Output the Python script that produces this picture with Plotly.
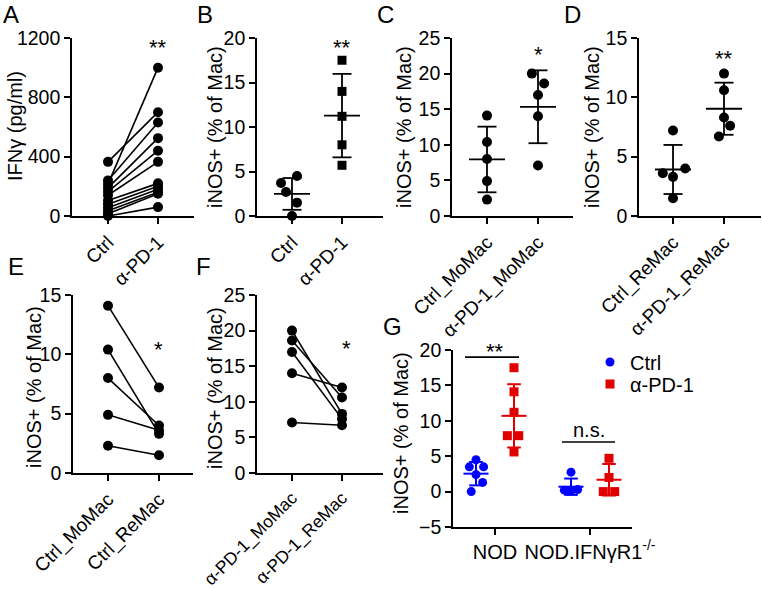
import numpy as np
import plotly.graph_objects as go

W, H = 762, 589
FONT = "Arial, Liberation Sans, Helvetica, sans-serif"
BLUE = "#0000FF"
RED = "#E00000"
BLACK = "#000000"

# ---------------- data ----------------
a_groups = ["Ctrl", "α-PD-1"]
a_ctrl = [365, 215, 240, 190, 165, 140, 105, 80, 55, 35, 15, 0]
a_pd1 = [700, 1000, 630, 525, 440, 365, 220, 200, 180, 160, 150, 60]

b_groups = ["Ctrl", "α-PD-1"]
b_ctrl = [4.5, 3.7, 2.7, 1.5, 0.0]
b_pd1 = [17.5, 14.0, 11.2, 8.0, 5.7]

c_groups = ["Ctrl_MoMac", "α-PD-1_MoMac"]
c_ctrl = [14.1, 10.4, 8.0, 4.9, 2.3]
c_pd1 = [20.0, 18.6, 17.0, 14.0, 7.1]

d_groups = ["Ctrl_ReMac", "α-PD-1_ReMac"]
d_ctrl = [7.2, 4.0, 3.6, 3.3, 1.5]
d_pd1 = [12.0, 10.6, 8.3, 7.6, 6.7]

e_groups = ["Ctrl_MoMac", "Ctrl_ReMac"]
e_momac = [14.1, 10.4, 8.0, 4.9, 2.3]
e_remac = [7.2, 3.3, 4.0, 3.6, 1.5]

f_groups = ["α-PD-1_MoMac", "α-PD-1_ReMac"]
f_momac = [20.0, 18.6, 17.0, 14.0, 7.1]
f_remac = [8.3, 10.6, 7.6, 12.0, 6.7]

g_strains = ["NOD", "NOD.IFNγR1<sup>-/-</sup>"]
g_nod_ctrl = [4.5, 3.5, 3.5, 2.4, 1.3, 0.0]
g_nod_pd1 = [17.5, 14.1, 11.2, 7.9, 7.9, 5.6]
g_ko_ctrl = [2.75, 0.2, 0.1, 0.3, 0.1]
g_ko_pd1 = [4.7, 2.0, 0.0, 0.0]

# ---------------- style: horizontal scatter spread (axis units) ----------------
b_ctrl_jit = [0.1, -0.22, -0.12, 0.1, 0.0]
b_pd1_jit = [0, 0, 0, 0, 0]
c_ctrl_jit = [0, 0, 0, 0, 0]
c_pd1_jit = [-0.12, 0.12, 0, 0, 0]
d_ctrl_jit = [0, 0.24, -0.2, 0, 0]
d_pd1_jit = [0, 0, 0, 0.12, -0.1]
g_nod_ctrl_jit = [0, -0.07, 0.08, 0, 0.07, -0.05]
g_nod_pd1_jit = [0, 0, 0, -0.07, 0.05, 0]
g_ko_ctrl_jit = [0, -0.07, 0, 0.07, -0.03]
g_ko_pd1_jit = [0, 0, -0.06, 0.06]
G_OFF = 0.2


def xp(p):
    return p / W


def yp(p):
    return 1 - p / H


# panel geometry in pixels: axis left/right, top/bottom, two category tick positions
panels = {
    "A": dict(i=1, x0=72, x1=194, y0=38, y1=216, c0=108, c1=158, yr=[0, 1200], dt=400, ticks=a_groups, ang=-45, fs=19),
    "B": dict(i=2, x0=257, x1=383, y0=38, y1=216, c0=292, c1=342, yr=[0, 20], dt=5, ticks=b_groups, ang=-45, fs=19),
    "C": dict(i=3, x0=452, x1=573, y0=38, y1=216, c0=487, c1=538, yr=[0, 25], dt=5, ticks=c_groups, ang=-45, fs=19),
    "D": dict(i=4, x0=639, x1=761, y0=38, y1=216, c0=673, c1=724, yr=[0, 15], dt=5, ticks=d_groups, ang=-45, fs=19),
    "E": dict(i=5, x0=73, x1=193, y0=295, y1=473, c0=108, c1=159, yr=[0, 15], dt=5, ticks=e_groups, ang=-45, fs=19),
    "F": dict(i=6, x0=257, x1=383, y0=295, y1=473, c0=292, c1=342, yr=[0, 25], dt=5, ticks=f_groups, ang=-45, fs=17.5),
    "G": dict(i=7, x0=453, x1=632, y0=350, y1=527, c0=495, c1=590, yr=[-5, 20], dt=5, ticks=g_strains, ang=0, fs=20),
}

fig = go.Figure()
layout = dict(
    width=W, height=H, margin=dict(l=0, r=0, t=0, b=0, pad=0, autoexpand=False),
    paper_bgcolor="white", plot_bgcolor="white",
    font=dict(family=FONT, size=20, color=BLACK),
    showlegend=True,
    hovermode=False,
)

axis_common = dict(
    showline=True, linecolor=BLACK, linewidth=1.6,
    ticks="outside", ticklen=6, tickwidth=1.6, tickcolor=BLACK,
    showgrid=False, zeroline=False, automargin=False,
)

for key, p in panels.items():
    i = p["i"]
    unit = p["c1"] - p["c0"]
    p["unit"] = unit
    xr = [-(p["c0"] - p["x0"]) / unit, 1 + (p["x1"] - p["c1"]) / unit]
    sx = "" if i == 1 else str(i)
    layout["xaxis" + sx] = dict(
        axis_common, domain=[xp(p["x0"]), min(1.0, xp(p["x1"]))], range=xr,
        tickmode="array", tickvals=[0, 1], ticktext=p["ticks"], tickangle=p["ang"],
        tickfont=dict(family=FONT, size=p["fs"], color=BLACK),
        anchor="y" + sx, fixedrange=True,
    )
    layout["yaxis" + sx] = dict(
        axis_common, domain=[yp(p["y1"]), yp(p["y0"])], range=p["yr"],
        tick0=p["yr"][0], dtick=p["dt"], anchor="x" + sx, fixedrange=True,
        tickfont=dict(family=FONT, size=19.5, color=BLACK),
    )
    p["xa"] = "x" + sx
    p["ya"] = "y" + sx


def dots(panel, xs, ys, color=BLACK, symbol="circle", size=10, name=None, legend=None):
    p = panels[panel]
    if legend:
        kw = dict(showlegend=True, legend=legend, name=name)
    else:
        kw = dict(showlegend=False)
    fig.add_trace(go.Scatter(
        x=xs, y=ys, mode="markers", xaxis=p["xa"], yaxis=p["ya"],
        marker=dict(color=color, symbol=symbol, size=size, line=dict(width=0)),
        cliponaxis=False, **kw,
    ))


def mean_sd(panel, xc, vals, color=BLACK, mw_px=18, cw_px=9.5, lw=1.8):
    p = panels[panel]
    m = float(np.mean(vals))
    s = float(np.std(vals, ddof=1))
    mw = mw_px / p["unit"]
    cw = cw_px / p["unit"]
    xs = [xc - mw, xc + mw, None, xc, xc, None, xc - cw, xc + cw, None, xc - cw, xc + cw]
    ys = [m, m, None, m - s, m + s, None, m + s, m + s, None, m - s, m - s]
    fig.add_trace(go.Scatter(
        x=xs, y=ys, mode="lines", xaxis=p["xa"], yaxis=p["ya"],
        line=dict(color=color, width=lw), cliponaxis=False, showlegend=False,
    ))


def paired(panel, left, right):
    p = panels[panel]
    xs, ys = [], []
    for a, b in zip(left, right):
        xs += [0, 1, None]
        ys += [a, b, None]
    fig.add_trace(go.Scatter(
        x=xs, y=ys, mode="lines", xaxis=p["xa"], yaxis=p["ya"],
        line=dict(color=BLACK, width=1.6), cliponaxis=False, showlegend=False,
    ))
    dots(panel, [0] * len(left), left, size=10)
    dots(panel, [1] * len(right), right, size=10)


# A
paired("A", a_ctrl, a_pd1)

# B
dots("B", [0 + j for j in b_ctrl_jit], b_ctrl)
dots("B", [1 + j for j in b_pd1_jit], b_pd1, symbol="square", size=9)
mean_sd("B", 0, b_ctrl)
mean_sd("B", 1, b_pd1)

# C
dots("C", [0 + j for j in c_ctrl_jit], c_ctrl)
dots("C", [1 + j for j in c_pd1_jit], c_pd1)
mean_sd("C", 0, c_ctrl)
mean_sd("C", 1, c_pd1)

# D
dots("D", [0 + j for j in d_ctrl_jit], d_ctrl)
dots("D", [1 + j for j in d_pd1_jit], d_pd1)
mean_sd("D", 0, d_ctrl)
mean_sd("D", 1, d_pd1)

# E, F
paired("E", e_momac, e_remac)
paired("F", f_momac, f_remac)

# G
g_ctrl_x = [0 - G_OFF + j for j in g_nod_ctrl_jit] + [1 - G_OFF + j for j in g_ko_ctrl_jit]
g_pd1_x = [0 + G_OFF + j for j in g_nod_pd1_jit] + [1 + G_OFF + j for j in g_ko_pd1_jit]
mean_sd("G", 0 - G_OFF, g_nod_ctrl, color=BLUE, mw_px=12.5, cw_px=6.8, lw=2)
mean_sd("G", 1 - G_OFF, g_ko_ctrl, color=BLUE, mw_px=12.5, cw_px=6.8, lw=2)
mean_sd("G", 0 + G_OFF, g_nod_pd1, color=RED, mw_px=12.5, cw_px=6.8, lw=2)
mean_sd("G", 1 + G_OFF, g_ko_pd1, color=RED, mw_px=12.5, cw_px=6.8, lw=2)
dots("G", g_ctrl_x, g_nod_ctrl + g_ko_ctrl, color=BLUE, size=9, name="Ctrl", legend="legend")
dots("G", g_pd1_x, g_nod_pd1 + g_ko_pd1, color=RED, symbol="square", size=9, name="α-PD-1", legend="legend2")

leg_common = dict(xanchor="left", yanchor="middle",
                  font=dict(family=FONT, size=20, color=BLACK), bgcolor="rgba(0,0,0,0)",
                  itemwidth=30, tracegroupgap=0, borderwidth=0)
layout["legend"] = dict(leg_common, x=xp(590), y=yp(362))
layout["legend2"] = dict(leg_common, x=xp(590), y=yp(384))

# significance bars in G
shapes = [
    dict(type="line", xref="x7", yref="y7", x0=-0.316, x1=0.253, y0=19.0, y1=19.0,
         line=dict(color=BLACK, width=1.6)),
    dict(type="line", xref="x7", yref="y7", x0=0.705, x1=1.263, y0=7.0, y1=7.0,
         line=dict(color=BLACK, width=1.6)),
]
layout["shapes"] = shapes

ann = []
# significance marks (pixel centre of the text box)
stars = [(158, 48, "**"), (342, 48, "**"), (538, 55, "*"), (724, 59, "**"),
         (158, 349, "*"), (346, 348, "*"), (495, 351, "**")]
for x, y, t in stars:
    ann.append(dict(x=xp(x), y=yp(y), xref="paper", yref="paper", text=t, showarrow=False,
                    xanchor="center", yanchor="middle", font=dict(family=FONT, size=22, color=BLACK)))
ann.append(dict(x=1 - 0.01, y=8.7, xref="x7", yref="y7", text="n.s.", showarrow=False,
                xanchor="center", yanchor="middle", font=dict(family=FONT, size=20, color=BLACK)))

# panel letters
letters = [("A", 11, 14), ("B", 205, 14), ("C", 385, 14), ("D", 572, 14),
           ("E", 16, 266), ("F", 203, 266), ("G", 392, 326)]
for t, x, y in letters:
    ann.append(dict(x=xp(x), y=yp(y), xref="paper", yref="paper", text=t, showarrow=False,
                    xanchor="center", yanchor="middle", font=dict(family=FONT, size=24, color=BLACK)))

# y-axis titles
ytitles = [("IFNγ (pg/ml)", 15, 126), ("iNOS+ (% of Mac)", 215, 127), ("iNOS+ (% of Mac)", 404, 127),
           ("iNOS+ (% of Mac)", 592, 127), ("iNOS+ (% of Mac)", 34, 387), ("iNOS+ (% of Mac)", 215, 388),
           ("iNOS+ (% of Mac)", 401, 433)]
for t, x, y in ytitles:
    ann.append(dict(x=xp(x), y=yp(y), xref="paper", yref="paper", text=t, showarrow=False,
                    textangle=-90, xanchor="center", yanchor="middle",
                    font=dict(family=FONT, size=20, color=BLACK)))

layout["annotations"] = ann
fig.update_layout(**layout)
# remove the browser's default 8 px page margin so the figure fills the window exactly
fig.write_html("out.html", config={"displayModeBar": False},
               post_script="document.body.style.margin='0';")
